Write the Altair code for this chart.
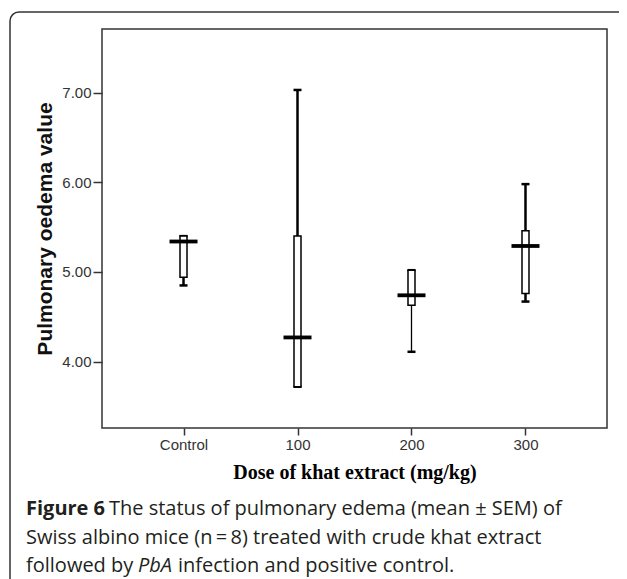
import altair as alt
import pandas as pd

# ---- data ----
groups = ["Control", "100", "200", "300"]
whisker_low = [4.85, 3.72, 4.11, 4.67]
whisker_high = [5.40, 7.03, 5.02, 5.98]
box_low = [4.94, 3.72, 4.63, 4.76]
box_high = [5.40, 5.40, 5.02, 5.46]
means = [5.34, 4.27, 4.74, 5.29]
y_ticks = [4.0, 5.0, 6.0, 7.0]
y_domain = [3.26, 7.71]

x_title = "Dose of khat extract (mg/kg)"
y_title = "Pulmonary oedema value"
cap1_bold = "Figure 6"
cap1_rest = "The status of pulmonary edema (mean \u00b1 SEM) of"
cap2 = "Swiss albino mice (n\u2009=\u20098) treated with crude khat extract"
cap3_a = "followed by"
cap3_it = "PbA"
cap3_b = "infection and positive control."

df = pd.DataFrame({
    "group": groups,
    "lo": whisker_low,
    "hi": whisker_high,
    "blo": box_low,
    "bhi": box_high,
    "mean": means,
})

x_enc = alt.X(
    "group:N",
    sort=groups,
    scale=alt.Scale(type="point", padding=0.715),
    axis=alt.Axis(
        title=x_title, labelAngle=0, domain=False, ticks=True, tickSize=7,
        tickWidth=1.5, tickColor="#333", labelFont="Liberation Sans",
        labelFontSize=15, labelColor="#333", labelPadding=2,
        titleFont="Liberation Serif", titleFontSize=20, titleFontWeight="bold",
        titleColor="#000", titlePadding=10,
    ),
)

y_axis = alt.Axis(
    title=y_title, values=y_ticks, format=".2f", grid=False, domain=False,
    tickSize=9, tickWidth=1.5, tickColor="#333", labelFont="Liberation Sans",
    labelFontSize=15, labelColor="#333", labelPadding=2,
    titleFont="Liberation Sans", titleFontSize=21, titleFontWeight="bold",
    titleColor="#111", titlePadding=6,
)
y_scale = alt.Scale(domain=y_domain, nice=False, zero=False)


def Y(field):
    return alt.Y(field, type="quantitative", scale=y_scale, axis=y_axis)


base = alt.Chart(df)

whisker = base.mark_rule(color="black").encode(
    x=x_enc,
    y=Y("lo"),
    y2="hi",
    strokeWidth=alt.condition("datum.group == '200'", alt.value(1.3), alt.value(2.5)),
)
cap_lo = base.mark_tick(color="black", opacity=1, thickness=2.5, size=8).encode(x=x_enc, y=Y("lo"))
cap_hi = base.mark_tick(color="black", opacity=1, thickness=2.5, size=8).encode(x=x_enc, y=Y("hi"))
box = base.mark_bar(fill="white", stroke="black", strokeWidth=1.5, size=7).encode(
    x=x_enc, y=Y("blo"), y2="bhi"
)
mean_line = base.mark_tick(color="black", opacity=1, thickness=3.8, size=28).encode(x=x_enc, y=Y("mean"))

border = alt.Chart(pd.DataFrame({"k": [0]})).mark_rect(
    fillOpacity=0, stroke="#333", strokeWidth=1.5, cornerRadius=9
).encode(x=alt.value(-92), x2=alt.value(530), y=alt.value(-17), y2=alt.value(590))


def txt(s, xv, yv, **kw):
    return alt.Chart(pd.DataFrame({"t": [s]})).mark_text(
        align="left", baseline="alphabetic", font="Open Sans", fontSize=20,
        color="#231f20", **kw
    ).encode(x=alt.value(xv), y=alt.value(yv), text="t:N")


captions = [
    txt(cap1_bold, -76, 486, fontWeight="bold"),
    txt(cap1_rest, 7, 486),
    txt(cap2, -76, 515),
    txt(cap3_a, -76, 543),
    txt(cap3_it, 36, 543, fontStyle="italic"),
    txt(cap3_b, 76, 543),
]

chart = alt.layer(border, whisker, cap_lo, cap_hi, box, mean_line, *captions).properties(
    width=505,
    height=399,
    padding={"left": 94, "top": 21, "right": 12, "bottom": 151},
    autosize=alt.AutoSizeParams(type="none"),
    background="white",
).configure_view(stroke="#333", strokeWidth=1.5)

chart.save("out.html", embed_options={"renderer": "svg", "actions": False})
